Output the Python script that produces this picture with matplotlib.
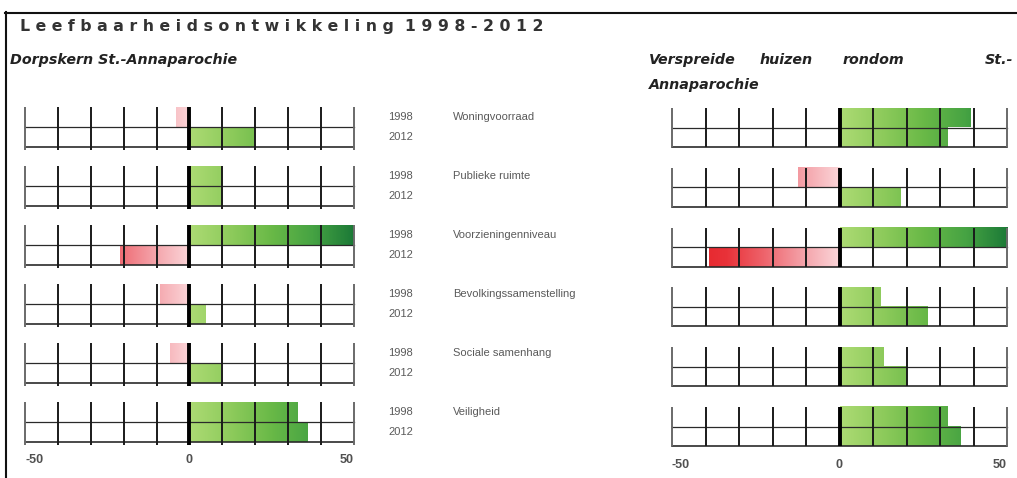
import numpy as np
import matplotlib.pyplot as plt
from matplotlib.colors import LinearSegmentedColormap
from matplotlib.lines import Line2D
from matplotlib.transforms import blended_transform_factory

# the data
categories = ["Woningvoorraad", "Publieke ruimte", "Voorzieningenniveau",
              "Bevolkingssamenstelling", "Sociale samenhang", "Veiligheid"]
years = ["1998", "2012"]

# Dorpskern St.-Annaparochie
dorp_1998 = [-4, 10, 50, -9, -6, 33]
dorp_2012 = [20, 10, -21, 5, 9.5, 36]

# Verspreide huizen rondom St.-Annaparochie
versp_1998 = [39, -12.5, 50, 12, 13, 32]
versp_2012 = [32, 18, -39, 26, 20, 36]

ticks = list(range(-50, 51, 10))

W, H = 1017, 478
fig = plt.figure(figsize=(W / 100, H / 100), dpi=100)

greens = LinearSegmentedColormap.from_list(
    "gr", ["#addb74", "#8ecb5c", "#69b947", "#46a343", "#1c7a37"])
reds = LinearSegmentedColormap.from_list(
    "rd", ["#fbd6d9", "#f4a0a7", "#ee646c", "#e93239", "#e52228"])


def px_axes(x0, x1, y0, y1):
    return fig.add_axes([x0 / W, 1 - y1 / H, (x1 - x0) / W, (y1 - y0) / H])


def ftext(x, y, s, **kw):
    fig.text(x / W, 1 - y / H, s, **kw)


def draw_panel(ax, v98, v12, pitch, half, tick_ext=0):
    for i in range(len(categories)):
        top = i * pitch
        for j, v in enumerate((v98[i], v12[i])):
            y0 = top + j * half
            grad = np.linspace(0, v, 300)
            if v >= 0:
                img = greens(grad / 50)
            else:
                img = reds(-grad / 45)
            ax.imshow(img[np.newaxis, :, :], extent=(0, v, y0 + half, y0),
                      aspect="auto", interpolation="bilinear", zorder=1)
        # grid of the row
        for x in ticks:
            if x == 0:
                lw, c = 2.8, "black"
            elif abs(x) == 50:
                lw, c = 1.4, "#6a6a6a"
            else:
                lw, c = 1.4, "#1a1a1a"
            ax.plot([x, x], [top, top + 2 * half + tick_ext], color=c, lw=lw,
                    clip_on=False, zorder=3, solid_capstyle="butt")
        ax.plot([-50, 50], [top + half, top + half], color="#2a2a2a", lw=0.9,
                clip_on=False, zorder=2)
        ax.plot([-50, 50], [top + 2 * half, top + 2 * half], color="#2a2a2a",
                lw=1.2, clip_on=False, zorder=2)
    ax.set_xlim(-50, 50)
    ax.set_ylim((len(categories) - 1) * pitch + 2 * half, 0)
    ax.axis("off")


# left panel
ax1 = px_axes(25, 354, 107, 442)
draw_panel(ax1, dorp_1998, dorp_2012, 59, 20, tick_ext=3)

# right panel
ax2 = px_axes(672, 1007, 108, 446)
draw_panel(ax2, versp_1998, versp_2012, 59.8, 19.5)

# year and category labels in the middle, on the rows of the left panel
tr = blended_transform_factory(fig.transFigure, ax1.transData)
lab_font = dict(family="Liberation Sans", fontsize=8, color="#5a5a5a",
                va="center", transform=tr)
for i, cat in enumerate(categories):
    top = i * 59
    ax1.text(388 / W, top + 10, years[0], ha="left", **lab_font)
    ax1.text(388 / W, top + 30, years[1], ha="left", **lab_font)
    ax1.text(453 / W, top + 10, cat, ha="left", **lab_font)

# axis numbers
num_font = dict(family="Liberation Sans", fontsize=9, fontweight="bold",
                color="#505050", va="center")
for ax, y in ((ax1, 460), (ax2, 465)):
    t = blended_transform_factory(ax.transData, fig.transFigure)
    ax.text(-50, 1 - y / H, "-50", ha="left", transform=t, **num_font)
    ax.text(0, 1 - y / H, "0", ha="center", transform=t, **num_font)
    ax.text(50, 1 - y / H, "50", ha="right", transform=t, **num_font)

# titles
title = "Leefbaarheidsontwikkeling 1998-2012"
ftext(20, 31, " ".join(title).replace("   ", "  "), fontsize=11.3,
      fontweight="bold", color="#333333", va="baseline",
      family="DejaVu Sans")
sub_font = dict(fontsize=10.3, fontstyle="italic", fontweight="bold",
                color="#222222", va="baseline", family="DejaVu Sans")
ftext(10, 64, "Dorpskern St.-Annaparochie", **sub_font)
ftext(649, 64, "Verspreide", ha="left", **sub_font)
ftext(760, 64, "huizen", ha="left", **sub_font)
ftext(843, 64, "rondom", ha="left", **sub_font)
ftext(1013, 64, "St.-", ha="right", **sub_font)
ftext(649, 89, "Annaparochie", ha="left", **sub_font)

# frame lines
fig.add_artist(Line2D([5 / W, 1], [1 - 12.5 / H, 1 - 12.5 / H],
                      transform=fig.transFigure, color="#111111", lw=1.5))
fig.add_artist(Line2D([5.5 / W, 5.5 / W], [0, 1 - 12 / H],
                      transform=fig.transFigure, color="#111111", lw=1.5))

plt.savefig("out.png", dpi=100)
